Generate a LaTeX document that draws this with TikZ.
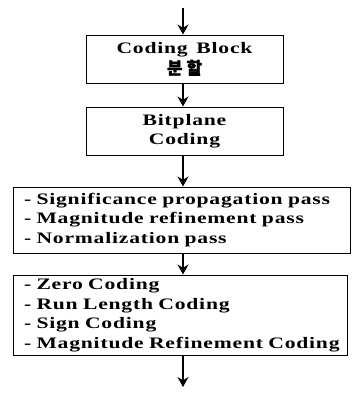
\documentclass[tikz,border=0pt]{standalone}
\usepackage{fontspec}
\setmainfont{Liberation Serif}[FakeStretch=1.35, LetterSpace=5, WordSpace=1.4]
\newfontfamily\kofont{Noto Sans CJK KR}[FakeBold=1.5]
\usetikzlibrary{arrows.meta}

\begin{document}
\begin{tikzpicture}
[
x = 1pt, y = 1pt,
>={Stealth[length=10pt,width=11pt]},
block/.style = {draw, line width=1pt, minimum width=197pt, minimum height=48pt,
  inner sep=0pt, align=center, font=\fontsize{16}{19}\selectfont\bfseries},
passbox/.style = {draw, line width=1pt, inner sep=0pt, text width=#1,
  align=left, font=\fontsize{16}{19.5}\selectfont\bfseries},
flow/.style = {->, line width=1.3pt},
]

\useasboundingbox (0,0) rectangle (352,-394);

\coordinate (in) at (183,-8);
\coordinate (out) at (183,-387);

\node (cb) at (184.5,-59) [block] {Coding Block\\[2pt]{\kofont\fontsize{17}{17}\selectfont 분 할}};
\node (bp) at (184.5,-131) [block] {Bitplane\\Coding};

\node (pass) at (181.5,-220) [passbox=337pt, minimum height=66pt]
  {\hspace{11pt}- Significance propagation pass\\
   \hspace{11pt}- Magnitude refinement pass\\
   \hspace{11pt}- Normalization pass};

\node (code) at (180,-315) [passbox=334pt, minimum height=80pt]
  {\hspace{11pt}- Zero Coding\\
   \hspace{11pt}- Run Length Coding\\
   \hspace{11pt}- Sign Coding\\
   \hspace{11pt}- Magnitude Refinement Coding};

\draw[flow] (in) -- (cb.north -| in);
\draw[flow] (cb.south -| in) -- (bp.north -| in);
\draw[flow] (bp.south -| in) -- (pass.north -| in);
\draw[flow] (pass.south -| in) -- (code.north -| in);
\draw[flow] (code.south -| in) -- (out);
\end{tikzpicture}
\end{document}
